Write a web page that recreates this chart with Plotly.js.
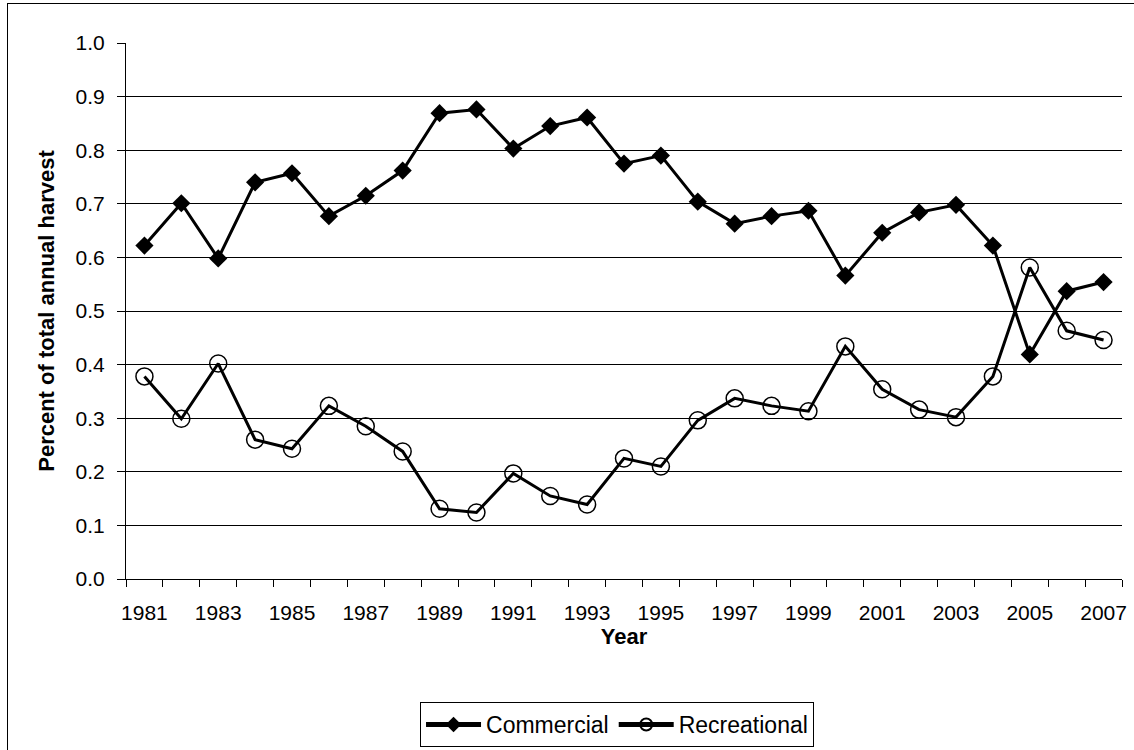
<!DOCTYPE html>
<html>
<head>
<meta charset="utf-8">
<script src="https://cdn.plot.ly/plotly-3.0.1.min.js"></script>
<style>
  html, body { margin: 0; padding: 0; background: #fff; overflow: hidden; }
  #chart { width: 1134px; height: 750px; position: absolute; left: 0; top: 0; }
  #frame { position: absolute; left: 7px; top: 3px; width: 1140px; height: 760px; border: 1px solid #000; pointer-events: none; }
</style>
</head>
<body>
<div id="chart"></div>
<div id="frame"></div>
<script>
const years = [1981,1982,1983,1984,1985,1986,1987,1988,1989,1990,1991,1992,1993,1994,1995,1996,1997,1998,1999,2000,2001,2002,2003,2004,2005,2006,2007];
const commercial = [0.622,0.701,0.598,0.740,0.757,0.677,0.715,0.762,0.869,0.876,0.803,0.845,0.861,0.775,0.790,0.704,0.663,0.677,0.687,0.566,0.646,0.684,0.698,0.622,0.419,0.537,0.554];
const recreational = [0.378,0.299,0.402,0.260,0.243,0.323,0.285,0.238,0.131,0.124,0.197,0.155,0.139,0.225,0.210,0.296,0.337,0.323,0.313,0.434,0.354,0.316,0.302,0.378,0.581,0.463,0.446];
const xTickLabels = ['1981','1983','1985','1987','1989','1991','1993','1995','1997','1999','2001','2003','2005','2007'];
const xTickVals = xTickLabels.map(Number);

const font = 'Liberation Sans, Arial, sans-serif';

const traces = [
  {
    x: years, y: commercial, name: 'Commercial', type: 'scatter', mode: 'lines+markers',
    line: { color: '#000', width: 3 },
    marker: { symbol: 'diamond', size: 14, color: '#000' }
  },
  {
    x: years, y: recreational, name: 'Recreational', type: 'scatter', mode: 'lines+markers',
    line: { color: '#000', width: 3 },
    marker: { symbol: 'circle-open', size: 17, color: '#000', line: { width: 1.5, color: '#000' } }
  }
];

const layout = {
  width: 1134, height: 750,
  margin: { l: 126, r: 12, t: 43, b: 171, autoexpand: false },
  paper_bgcolor: 'rgba(0,0,0,0)', plot_bgcolor: '#fff',
  font: { family: font, size: 21, color: '#000' },
  showlegend: true,
  legend: {
    orientation: 'h', xref: 'paper', x: 0.493, xanchor: 'center',
    yref: 'container', y: 0.064, yanchor: 'top',
    bordercolor: '#000', borderwidth: 1, bgcolor: '#fff',
    font: { family: font, size: 23, color: '#000' },
    itemwidth: 55, tracegroupgap: 0, itemsizing: 'constant'
  },
  xaxis: {
    range: [1980.5, 2007.5], automargin: false,
    tickmode: 'array', tickvals: xTickVals, ticktext: xTickLabels,
    ticks: '', showgrid: false, zeroline: false,
    showline: true, linecolor: '#000', linewidth: 1,
    ticklabelstandoff: 15,
    tickfont: { family: font, size: 21, color: '#000' },
    minor: { tick0: 1980.5, dtick: 1, ticks: 'outside', ticklen: 7, tickcolor: '#000', tickwidth: 1, showgrid: false },
    title: { text: '<b>Year</b>', font: { family: font, size: 22, color: '#000' }, standoff: 1 }
  },
  yaxis: {
    range: [0, 1.0], dtick: 0.1, tickformat: '.1f', automargin: false,
    ticks: 'outside', ticklen: 8, tickcolor: '#000',
    ticklabelstandoff: 8,
    showgrid: true, gridcolor: '#000', gridwidth: 1,
    zeroline: false, showline: true, linecolor: '#000', linewidth: 1,
    tickfont: { family: font, size: 21, color: '#000' },
    title: { text: '<b>Percent of total annual harvest</b>', font: { family: font, size: 22, color: '#000' }, standoff: 14 }
  }
};

Plotly.newPlot('chart', traces, layout, { displayModeBar: false, staticPlot: true });
</script>
</body>
</html>
